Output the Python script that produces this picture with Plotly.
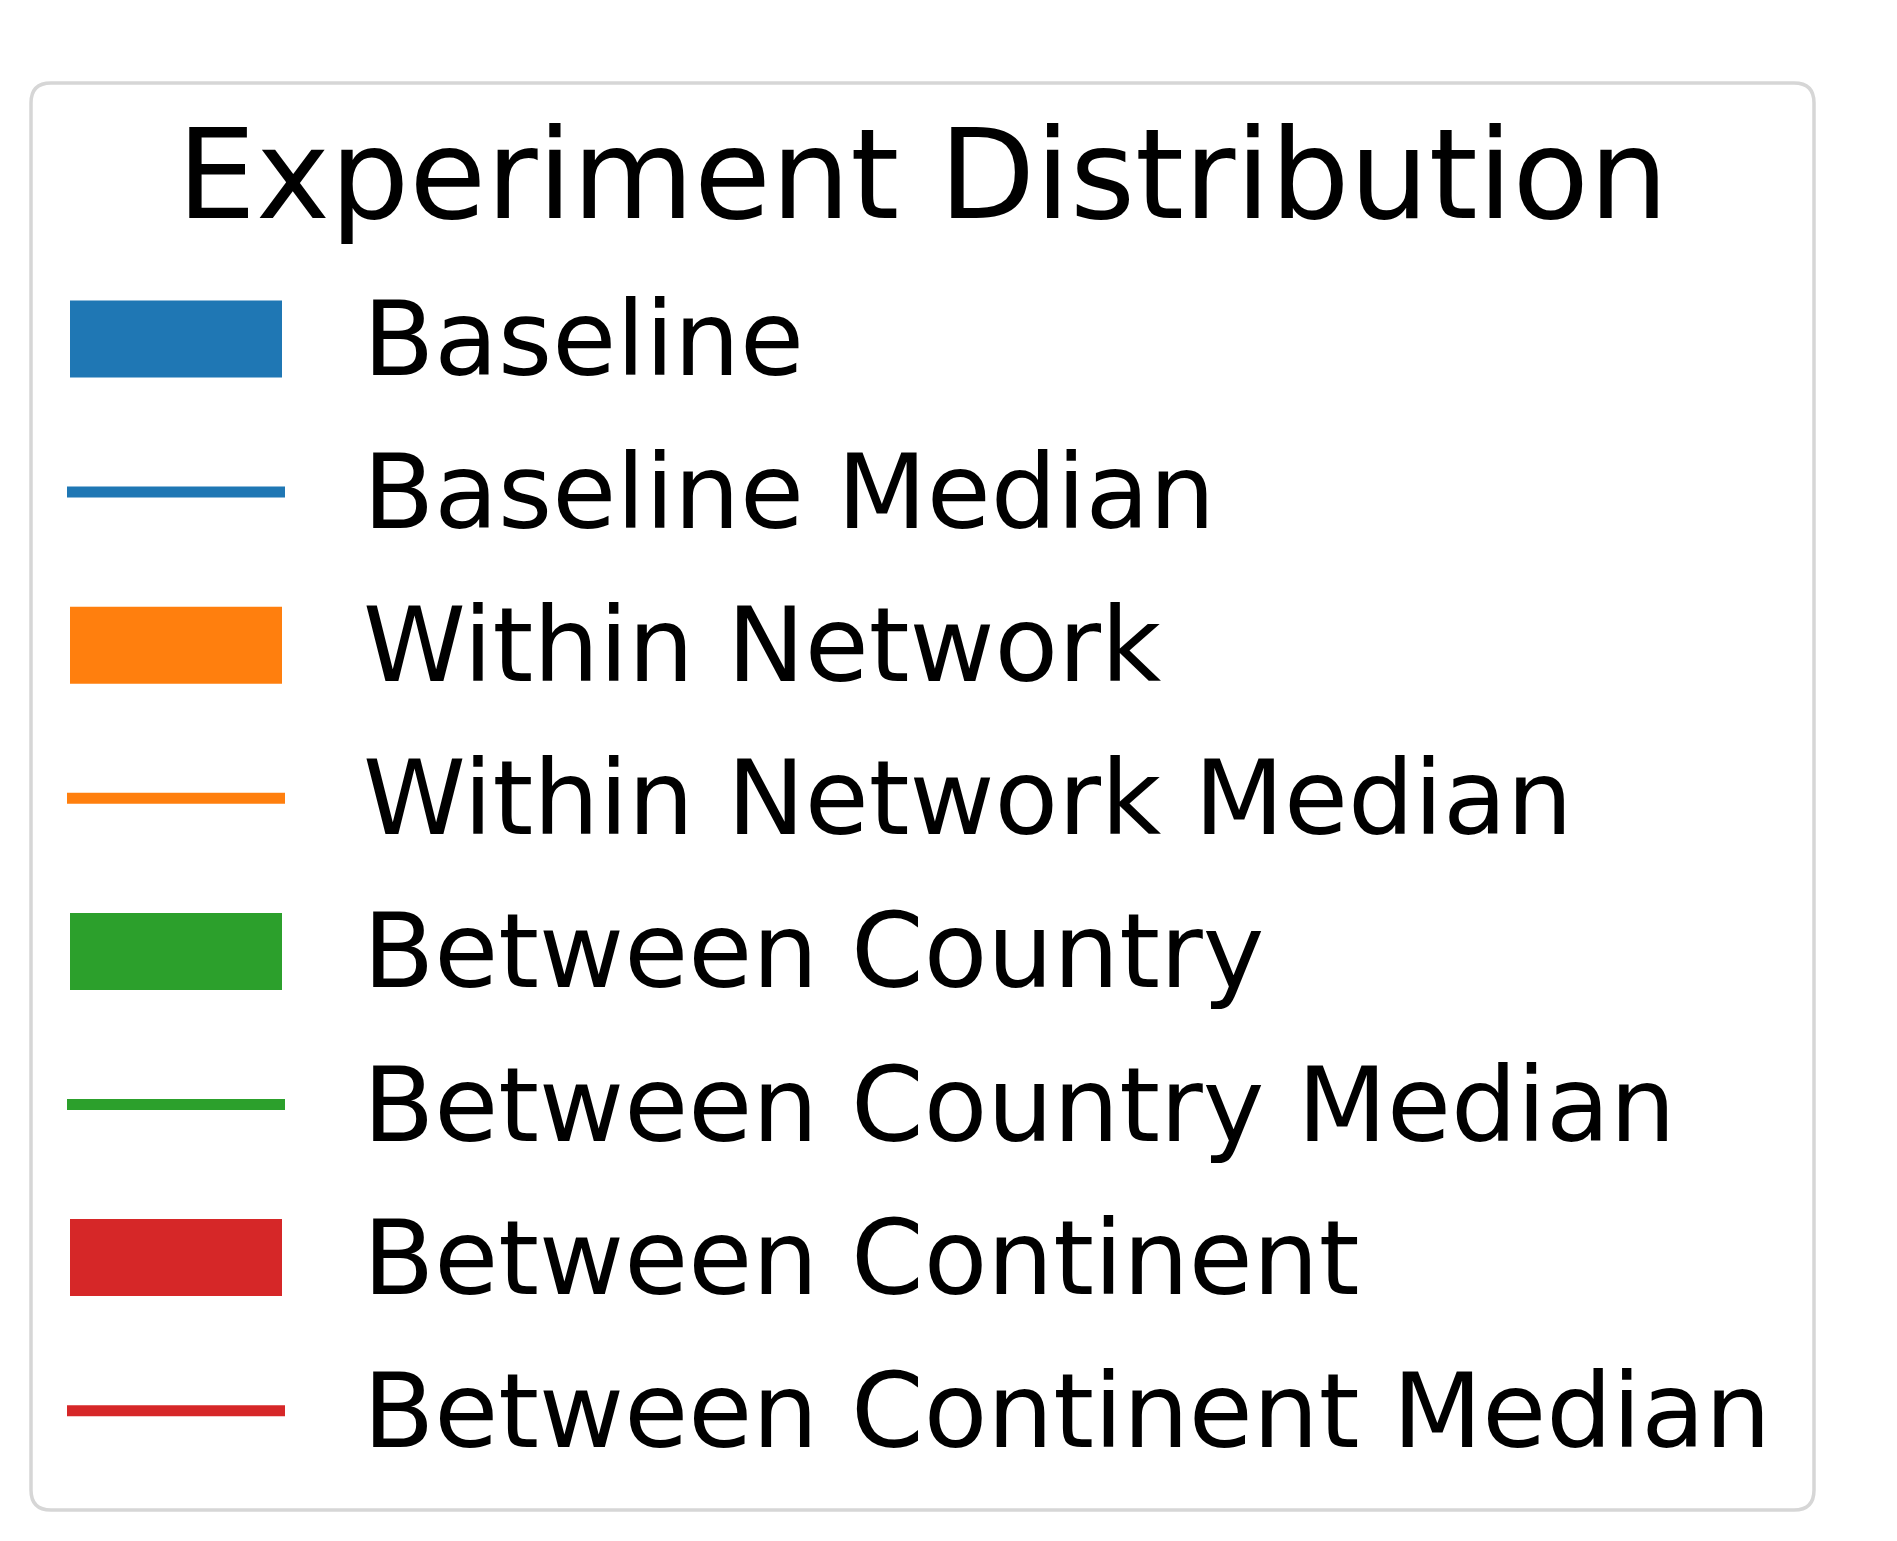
import plotly.graph_objects as go

# ---- data ----
title_text = "Experiment Distribution"
labels = ["Baseline", "Baseline Median", "Within Network", "Within Network Median",
          "Between Country", "Between Country Median", "Between Continent",
          "Between Continent Median"]
kinds = ["patch", "line", "patch", "line", "patch", "line", "patch", "line"]
colors = ["#1f77b4", "#1f77b4", "#ff7f0e", "#ff7f0e",
          "#2ca02c", "#2ca02c", "#d62728", "#d62728"]

W, H = 1897, 1541
PAGE_MARGIN = 8  # default HTML body margin
FONT = "DejaVu Sans"

# layout metrics (window pixels, y downward)
box_l, box_r, box_t, box_b, rad = 31, 1814, 83, 1510, 20
row0, row_step = 339, 153.1
patch_x0, patch_x1, patch_h = 70, 282, 77
line_x0, line_x1, line_w = 67, 285, 11
text_x = 361

fig = go.Figure()

for i, (lab, kind, col) in enumerate(zip(labels, kinds, colors)):
    yc = row0 + i * row_step
    if kind == "patch":
        fig.add_trace(go.Scatter(
            x=[patch_x0, patch_x1, patch_x1, patch_x0, patch_x0],
            y=[yc - patch_h / 2, yc - patch_h / 2, yc + patch_h / 2, yc + patch_h / 2, yc - patch_h / 2],
            mode="lines", fill="toself", fillcolor=col,
            line=dict(width=0, color=col), showlegend=False, hoverinfo="skip"))
    else:
        fig.add_trace(go.Scatter(
            x=[line_x0, line_x1], y=[yc, yc], mode="lines",
            line=dict(color=col, width=line_w), showlegend=False, hoverinfo="skip"))
    fig.add_annotation(x=text_x, y=yc, xref="x", yref="y", text=lab,
                       showarrow=False, xanchor="left", yanchor="middle",
                       font=dict(family=FONT, size=104, color="black"))

fig.add_annotation(x=(box_l + box_r) / 2, y=174, xref="x", yref="y", text=title_text,
                   showarrow=False, xanchor="center", yanchor="middle",
                   font=dict(family=FONT, size=125, color="black"))

r = rad
path = (f"M {box_l + r},{box_t} L {box_r - r},{box_t} Q {box_r},{box_t} {box_r},{box_t + r} "
        f"L {box_r},{box_b - r} Q {box_r},{box_b} {box_r - r},{box_b} "
        f"L {box_l + r},{box_b} Q {box_l},{box_b} {box_l},{box_b - r} "
        f"L {box_l},{box_t + r} Q {box_l},{box_t} {box_l + r},{box_t} Z")
fig.add_shape(type="path", path=path, xref="x", yref="y",
              line=dict(color="#d6d6d6", width=3.5), fillcolor="rgba(255,255,255,0.8)",
              layer="below")

m = PAGE_MARGIN
fig.update_layout(
    width=W - 2 * m, height=H - 2 * m, margin=dict(l=0, r=0, t=0, b=0),
    paper_bgcolor="white", plot_bgcolor="white",
    xaxis=dict(range=[m, W - m], visible=False, fixedrange=True),
    yaxis=dict(range=[H - m, m], visible=False, fixedrange=True),
    showlegend=False,
)

fig.write_html("out.html")
